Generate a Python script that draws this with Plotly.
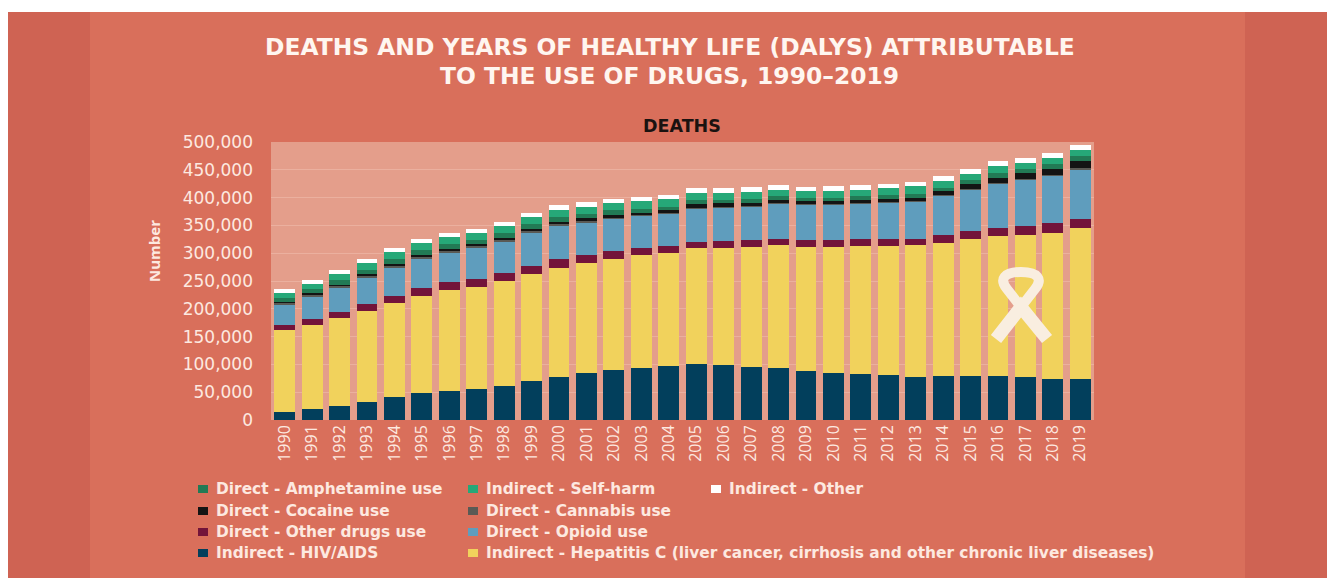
import plotly.graph_objects as go

W, H = 1327, 578

YEARS = [str(y) for y in range(1990, 2020)]
Y_TICKS = [0, 50000, 100000, 150000, 200000, 250000, 300000, 350000, 400000, 450000, 500000]

# thousands of deaths
HIV = [15, 19, 25, 32, 41, 48, 53, 56, 61, 71, 78, 85, 90, 94, 98, 101, 99, 96, 93, 88, 85, 83, 81, 77, 79, 79, 80, 77, 74, 74]
HEPATITIS = [147, 152, 158, 164, 170, 175, 181, 184, 189, 192, 196, 197, 200, 202, 203, 209, 211, 215, 221, 224, 227, 230, 232, 237, 240, 247, 251, 256, 263, 272]
OTHER_DRUGS = [9, 11, 11, 13, 12, 14, 14, 14, 14, 14, 16, 15, 14, 13, 12, 11, 12, 12, 12, 11, 11, 12, 13, 12, 13, 14, 15, 16, 17, 16]
OPIOID = [37, 41, 44, 47, 52, 53, 53, 56, 57, 60, 59, 59, 58, 58, 58, 60, 61, 61, 64, 64, 65, 65, 65, 67, 71, 75, 80, 84, 86, 89]
CANNABIS = [2.5, 3, 3, 3, 3, 4, 4, 3, 3, 3, 3, 2, 2, 1, 1, 1, 1, 1, 1, 1, 1, 1, 1, 1, 1, 1, 1, 1, 1, 2]
COCAINE = [1.5, 2, 2, 3, 3, 2, 3, 3, 3, 3, 4, 5, 5, 5, 6, 7, 6, 6, 5, 5, 5, 5, 6, 6, 7, 8, 9, 10, 11, 13]
AMPHETAMINE = [7, 7, 8, 8, 8, 9, 8, 7, 9, 9, 9, 8, 8, 7, 6, 6, 6, 6, 6, 6, 6, 6, 6, 7, 7, 7, 8, 8, 9, 9]
SELF_HARM = [10, 10, 11, 12, 13, 13, 13, 13, 13, 13, 13, 13, 13, 13, 13, 13, 12, 13, 12, 12, 12, 12, 13, 13, 12, 12, 12, 11, 11, 11]
OTHER = [6, 6, 7, 7, 7, 8, 8, 8, 8, 8, 8, 8, 8, 8, 8, 9, 9, 9, 8, 8, 8, 8, 8, 8, 8, 9, 9, 9, 9, 9]

# bottom to top
SERIES = [
    ("Indirect - HIV/AIDS", HIV, "#023f5c"),
    ("Indirect - Hepatitis C (liver cancer, cirrhosis and other chronic liver diseases)", HEPATITIS, "#f1d25c"),
    ("Direct - Other drugs use", OTHER_DRUGS, "#73143a"),
    ("Direct - Opioid use", OPIOID, "#5f9dbd"),
    ("Direct - Cannabis use", CANNABIS, "#5a5a55"),
    ("Direct - Cocaine use", COCAINE, "#141414"),
    ("Direct - Amphetamine use", AMPHETAMINE, "#227a55"),
    ("Indirect - Self-harm", SELF_HARM, "#26a878"),
    ("Indirect - Other", OTHER, "#ffffff"),
]

# legend rows as they sit in the picture: name, column, row
LEGEND_LAYOUT = [
    ("Direct - Amphetamine use", 0, 0),
    ("Indirect - Self-harm", 1, 0),
    ("Indirect - Other", 2, 0),
    ("Direct - Cocaine use", 0, 1),
    ("Direct - Cannabis use", 1, 1),
    ("Direct - Other drugs use", 0, 2),
    ("Direct - Opioid use", 1, 2),
    ("Indirect - HIV/AIDS", 0, 3),
    ("Indirect - Hepatitis C (liver cancer, cirrhosis and other chronic liver diseases)", 1, 3),
]
LEGEND_COL_X = [203, 473, 716]
LEGEND_ROW_Y = [489, 511, 532, 553]

TEXT = "#fde9e0"
SIDE = "#cf6353"
PANEL = "#d96f5b"
PLOT_BG = "#e49e8b"
GRID = "#ebb09f"
FONT = "DejaVu Sans, sans-serif"


def px_x(x):
    return x / W


def px_y(y):
    return 1 - y / H


def paper_rect(x0, y0, x1, y1, colour):
    return dict(type="rect", xref="paper", yref="paper", layer="below",
                x0=px_x(x0), x1=px_x(x1), y0=px_y(y0), y1=px_y(y1),
                fillcolor=colour, line_width=0)


def paper_path(points, width):
    # points are (command, x, y, ...) in page pixels
    parts = []
    for cmd, *xy in points:
        pairs = [f"{px_x(xy[i]):.5f},{px_y(xy[i + 1]):.5f}" for i in range(0, len(xy), 2)]
        parts.append(cmd + " ".join(pairs))
    return dict(type="path", xref="paper", yref="paper", path=" ".join(parts), layer="above",
                line=dict(color="#f9eee0", width=width))


def label(x, y, text, size=14, colour=TEXT, anchor="left", bold=True, angle=0, family=FONT):
    return dict(x=px_x(x), y=px_y(y), xref="paper", yref="paper", showarrow=False,
                xanchor=anchor, yanchor="middle", textangle=angle,
                text=f"<b>{text}</b>" if bold else text,
                font=dict(family=family, size=size, color=colour))


fig = go.Figure()
for name, values, colour in SERIES:
    fig.add_trace(go.Bar(x=YEARS, y=[v * 1000 for v in values], name=name,
                         marker=dict(color=colour, line_width=0)))

shapes = [
    paper_rect(8, 12, W, H, SIDE),
    paper_rect(90, 12, 1245, H, PANEL),
    paper_rect(271, 142, 1094, 420, PLOT_BG),
    # awareness ribbon
    paper_path([("M", 996, 339), ("L", 1021, 307), ("L", 1047, 339)], 13),
    paper_path([("M", 1021, 307), ("L", 1007, 289),
                ("C", 999, 279, 1004, 272, 1021, 272),
                ("C", 1038, 272, 1043, 279, 1035, 289),
                ("L", 1021, 307)], 10),
]

annotations = [
    label(670, 47, "DEATHS AND YEARS OF HEALTHY LIFE (DALYS) ATTRIBUTABLE", size=23.4, colour="#fff6f0", anchor="center"),
    label(670, 76, "TO THE USE OF DRUGS, 1990–2019", size=23.4, colour="#fff6f0", anchor="center"),
    label(682, 126, "DEATHS", size=17.5, colour="#1a1210", anchor="center"),
    label(154, 251, "Number", size=15, anchor="center", angle=-90, family="Open Sans, sans-serif"),
]

colours = {name: colour for name, _, colour in SERIES}
for name, col, row in LEGEND_LAYOUT:
    x, y = LEGEND_COL_X[col], LEGEND_ROW_Y[row]
    shapes.append(paper_rect(x - 5, y - 4, x + 5, y + 4, colours[name]))
    annotations.append(label(x + 11, y, name, size=15.4))

fig.update_layout(
    width=W, height=H,
    barmode="stack", bargap=0.24, showlegend=False,
    paper_bgcolor="#ffffff", plot_bgcolor=PLOT_BG,
    margin=dict(l=0, r=0, t=0, b=0, autoexpand=False),
    font=dict(family=FONT, color=TEXT),
    shapes=shapes, annotations=annotations,
    xaxis=dict(domain=[px_x(271), px_x(1094)], type="category", tickangle=-90,
               showgrid=False, showline=False, ticks="", ticklabelstandoff=1,
               tickfont=dict(family="Open Sans, sans-serif", size=16, color=TEXT)),
    yaxis=dict(domain=[px_y(420), px_y(142)], range=[0, 500000], tickvals=Y_TICKS, tickformat=",",
               gridcolor=GRID, gridwidth=1, zeroline=False, showline=False, ticks="",
               ticklabelstandoff=17, tickfont=dict(size=17, color=TEXT)),
)

fig.write_html("out.html", config=dict(displayModeBar=False),
               post_script="document.body.style.margin='0';")
